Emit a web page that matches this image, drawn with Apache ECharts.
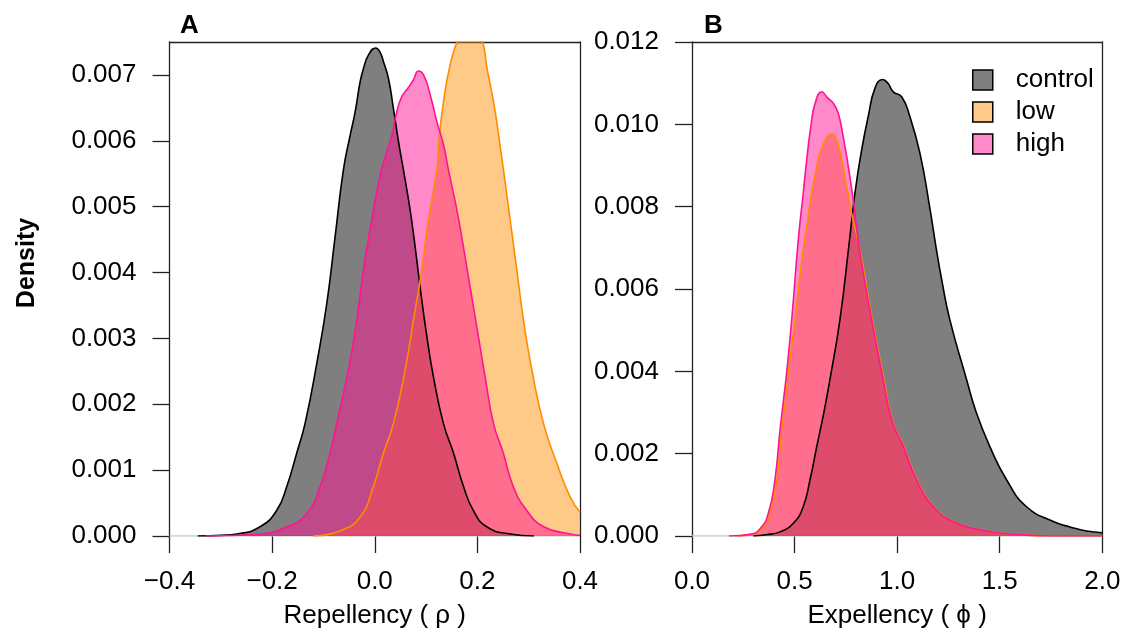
<!DOCTYPE html>
<html><head><meta charset="utf-8">
<script src="https://cdn.jsdelivr.net/npm/echarts@6/dist/echarts.min.js"></script>
<style>html,body{margin:0;padding:0;background:#fff}#c{width:1125px;height:636px}</style>
</head><body><div id="c"></div>
<script>
// ---------- data ----------
const groupNames = ['control', 'low', 'high'];
const panelLabels = ['A', 'B'];
const xTitleA = 'Repellency ( \u03c1 )';
const xTitleB = 'Expellency ( \u03d5 )';
const yTitle = 'Density';

const xTicksA = [-0.4, -0.2, 0.0, 0.2, 0.4];
const yTicksA = [0.000, 0.001, 0.002, 0.003, 0.004, 0.005, 0.006, 0.007];
const xTicksB = [0.0, 0.5, 1.0, 1.5, 2.0];
const yTicksB = [0.000, 0.002, 0.004, 0.006, 0.008, 0.010, 0.012];

// Panel A: Repellency (rho) densities
const repControl = [[-0.345,0],[-0.30,0.00001],[-0.269,0.00003],[-0.2235,0.00014],[-0.191,0.00039],[-0.1715,0.00075],
  [-0.152,0.00126],[-0.1358,0.00171],[-0.113,0.00262],[-0.0935,0.00353],[-0.0773,0.00454],[-0.0611,0.00556],
  [-0.048,0.00608],[-0.0382,0.00644],[-0.0284,0.0069],[-0.0219,0.0071],[-0.0124,0.0073],[0.002,0.00741],
  [0.010,0.00735],[0.017,0.0072],[0.0266,0.00695],[0.0364,0.00649],[0.0462,0.00599],[0.0559,0.00556],
  [0.0689,0.00495],[0.0787,0.00439],[0.0884,0.00378],[0.1015,0.00303],[0.1143,0.00242],[0.1338,0.00171],
  [0.1535,0.00126],[0.173,0.00075],[0.192,0.00039],[0.218,0.00014],[0.264,0.00003],[0.31,0]];
const repLow = [[-0.12,0],[-0.067,0.00008],[-0.0284,0.00029],[-0.0027,0.00075],[0.017,0.00126],[0.0364,0.00171],
  [0.0591,0.00252],[0.0754,0.00328],[0.0917,0.00404],[0.1046,0.0048],[0.121,0.00556],[0.126,0.00609],
  [0.134,0.00659],[0.1455,0.0071],[0.163,0.00755],[0.185,0.0078],[0.208,0.00755],[0.2188,0.0071],
  [0.2315,0.00659],[0.2413,0.00609],[0.2508,0.00556],[0.2639,0.0048],[0.2769,0.00404],[0.2898,0.00328],
  [0.3062,0.00252],[0.3288,0.00171],[0.355,0.0011],[0.381,0.00059],[0.40,0.00036]];
const repHigh = [[-0.33,0],[-0.2235,0.00003],[-0.1715,0.00014],[-0.1325,0.00034],[-0.1065,0.00075],[-0.087,0.00126],
  [-0.074,0.00171],[-0.0514,0.00252],[-0.035,0.00328],[-0.0221,0.00404],[-0.0058,0.0048],[0.0104,0.00548],
  [0.0203,0.00575],[0.0333,0.00608],[0.043,0.00644],[0.0527,0.00667],[0.0637,0.00679],[0.075,0.00692],
  [0.0853,0.00706],[0.0951,0.0070],[0.108,0.0067],[0.121,0.00629],[0.134,0.00594],[0.1436,0.00556],
  [0.16,0.00495],[0.1728,0.00439],[0.1859,0.00378],[0.202,0.00303],[0.2151,0.00242],[0.2313,0.00171],
  [0.2505,0.00126],[0.27,0.00075],[0.296,0.00039],[0.329,0.00014],[0.381,0.00003],[0.40,0.00001]];

// Panel B: Expellency (phi) densities
const expControl = [[0.30,0],[0.36,0.00003],[0.429,0.0001],[0.494,0.00031],[0.542,0.00071],[0.575,0.00136],
  [0.608,0.00217],[0.642,0.00298],[0.672,0.00379],[0.721,0.00525],[0.766,0.00711],[0.794,0.00832],
  [0.827,0.00938],[0.859,0.01019],[0.892,0.01088],[0.929,0.01109],[0.955,0.011],[0.981,0.01079],
  [1.022,0.01067],[1.062,0.01019],[1.111,0.0093],[1.155,0.0081],[1.19,0.0070],[1.218,0.0062],[1.257,0.00525],
  [1.339,0.00379],[1.387,0.00298],[1.452,0.00217],[1.534,0.00136],[1.631,0.00071],[1.761,0.00035],
  [1.843,0.00022],[1.923,0.00012],[2.0,0.00008]];
const expLow = [[0.22,0],[0.29,0.00004],[0.34,0.00017],[0.38,0.00055],[0.413,0.00136],[0.437,0.00257],
  [0.455,0.0033],[0.47,0.004],[0.502,0.00525],[0.535,0.0067],[0.559,0.00751],[0.583,0.00832],[0.608,0.00897],
  [0.632,0.00942],[0.681,0.00977],[0.705,0.00962],[0.73,0.00913],[0.754,0.00849],[0.778,0.00784],
  [0.822,0.00687],[0.879,0.00525],[0.936,0.00379],[0.978,0.0028],[1.033,0.00217],[1.098,0.00136],
  [1.179,0.00071],[1.276,0.00035],[1.44,0.00012],[1.6,0.00003],[1.75,0],[2.0,0]];
const expHigh = [[0.18,0],[0.283,0.00004],[0.331,0.00017],[0.372,0.00055],[0.404,0.00136],[0.429,0.00257],
  [0.446,0.0033],[0.462,0.004],[0.486,0.00525],[0.518,0.00719],[0.542,0.00832],[0.559,0.00913],
  [0.579,0.00994],[0.60,0.01051],[0.632,0.01079],[0.66,0.01065],[0.689,0.01051],[0.713,0.01027],
  [0.737,0.0097],[0.762,0.00897],[0.786,0.00816],[0.819,0.00687],[0.876,0.00525],[0.932,0.00379],
  [0.975,0.0028],[1.03,0.00217],[1.095,0.00136],[1.176,0.00071],[1.273,0.00035],[1.436,0.00012],
  [1.598,0.00003],[1.75,0],[2.0,0]];

// ---------- styling ----------
const FONT = "'Liberation Sans', Arial, Helvetica, sans-serif";
const AX = '#222';
const fills = { control: 'rgba(0,0,0,0.5)', low: 'rgba(255,140,0,0.47)', high: 'rgba(255,20,147,0.5)' };
const strokes = { control: '#000000', low: '#FF8C00', high: '#FF1493' };

const fmtX = v => { if (Math.abs(v) < 1e-9) v = 0; return v.toFixed(1).replace('-', '\u2212'); };
const fmtY = v => v.toFixed(3);

function bottomX(gi, min, max, interval, ticks, name) {
  return {
    gridIndex: gi, type: 'value', position: 'bottom', min, max, interval,
    axisLine: { show: false, onZero: false },
    axisTick: { show: true, length: 17, inside: false, lineStyle: { color: AX, width: 1.3 }, customValues: ticks },
    axisLabel: { show: true, margin: 33, fontSize: 26, color: '#000', fontFamily: FONT, formatter: fmtX, customValues: ticks },
    splitLine: { show: false },
    name, nameLocation: 'middle', nameGap: 67,
    nameTextStyle: { fontSize: 26, color: '#000', fontFamily: FONT }
  };
}
function topX(gi, min, max) {
  return { gridIndex: gi, type: 'value', position: 'top', min, max,
    axisLine: { show: true, onZero: false, lineStyle: { color: AX, width: 1.3 } },
    axisTick: { show: false }, axisLabel: { show: false }, splitLine: { show: false } };
}
function leftY(gi, min, max, interval, ticks) {
  return {
    gridIndex: gi, type: 'value', position: 'left', min, max, interval,
    axisLine: { show: true, onZero: false, lineStyle: { color: AX, width: 1.3 } },
    axisTick: { show: true, length: 17, inside: false, lineStyle: { color: AX, width: 1.3 }, customValues: ticks },
    axisLabel: { show: true, margin: 33, fontSize: 26, color: '#000', fontFamily: FONT, formatter: fmtY, customValues: ticks },
    splitLine: { show: false }
  };
}
function rightY(gi, min, max) {
  return { gridIndex: gi, type: 'value', position: 'right', min, max,
    axisLine: { show: true, onZero: false, lineStyle: { color: AX, width: 1.3 } },
    axisTick: { show: false }, axisLabel: { show: false }, splitLine: { show: false } };
}

function dens(name, data, xi, yi) {
  return {
    name, type: 'line', xAxisIndex: xi, yAxisIndex: yi, data,
    smooth: 0.5, showSymbol: false, symbol: 'none', clip: true,
    lineStyle: { color: strokes[name], width: 1.6 },
    itemStyle: { color: fills[name], borderColor: '#000', borderWidth: 1.5 },
    areaStyle: { color: fills[name], opacity: 1, origin: 'start' },
    emphasis: { disabled: true }, silent: true
  };
}
function baseline(data, xi, yi) {
  return { name: 'base', type: 'line', xAxisIndex: xi, yAxisIndex: yi, data, showSymbol: false, symbol: 'none',
    lineStyle: { color: '#c8c8c8', width: 1.6 }, silent: true, z: 1 };
}

const chart = echarts.init(document.getElementById('c'), null, { renderer: 'canvas' });
chart.setOption({
  animation: false,
  backgroundColor: '#ffffff',
  textStyle: { fontFamily: FONT },
  title: [
    { text: panelLabels[0], left: 175, top: 8, textStyle: { fontSize: 26, fontWeight: 'bold', color: '#000', fontFamily: FONT } },
    { text: panelLabels[1], left: 699, top: 8, textStyle: { fontSize: 26, fontWeight: 'bold', color: '#000', fontFamily: FONT } }
  ],
  grid: [
    { left: 169.5, top: 42, width: 410.5, height: 494 },
    { left: 692, top: 42, width: 410.3, height: 494 }
  ],
  xAxis: [
    bottomX(0, -0.4, 0.4, 0.2, xTicksA, xTitleA),
    bottomX(1, 0, 2, 0.5, xTicksB, xTitleB),
    topX(0, -0.4, 0.4),
    topX(1, 0, 2)
  ],
  yAxis: [
    leftY(0, 0, 0.0075, 0.001, yTicksA),
    leftY(1, 0, 0.012, 0.002, yTicksB),
    rightY(0, 0, 0.0075),
    rightY(1, 0, 0.012)
  ],
  legend: {
    orient: 'vertical', left: 967, top: 62, itemWidth: 20, itemHeight: 20, itemGap: 6,
    icon: 'rect', selectedMode: false,
    lineStyle: { opacity: 0, width: 0 },
    textStyle: { fontSize: 26, color: '#000', fontFamily: FONT, padding: [0, 0, 0, 18] },
    data: groupNames.map(n => ({ name: n, icon: 'rect',
      itemStyle: { color: fills[n], borderColor: '#000', borderWidth: 1.5 } }))
  },
  graphic: [
    { type: 'text', x: 27, y: 263, rotation: Math.PI / 2,
      style: { text: yTitle, font: 'bold 25px ' + FONT, fill: '#000', textAlign: 'center', textVerticalAlign: 'middle' } }
  ],
  series: [
    baseline([[xTicksA[0], 0], [xTicksA[xTicksA.length - 1], 0]], 0, 0),
    dens('control', repControl, 0, 0),
    dens('low', repLow, 0, 0),
    dens('high', repHigh, 0, 0),
    baseline([[xTicksB[0], 0], [xTicksB[xTicksB.length - 1], 0]], 1, 1),
    dens('control', expControl, 1, 1),
    dens('low', expLow, 1, 1),
    dens('high', expHigh, 1, 1)
  ]
});
</script></body></html>
